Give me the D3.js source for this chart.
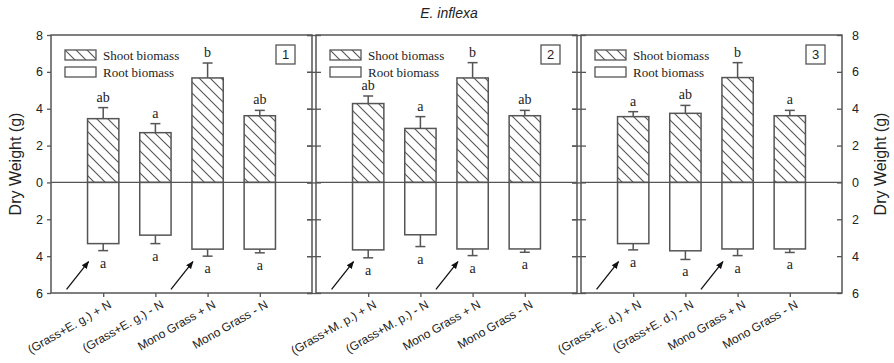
<!DOCTYPE html>
<html>
<head>
<meta charset="utf-8">
<script src="https://cdn.jsdelivr.net/npm/d3@7/dist/d3.min.js"></script>
<style>
  html, body { margin: 0; padding: 0; background: #fff; }
  svg { display: block; }
  .sans { font-family: "Liberation Sans", Arial, sans-serif; }
  .serif { font-family: "Liberation Serif", "Times New Roman", serif; }
</style>
</head>
<body>
<svg id="chart" width="894" height="363"></svg>
<script>
// Treatments shown in each panel (panel 1: E. g., panel 2: M. p., panel 3: E. d.)
const categories = [
  ["(Grass+E. g.) + N", "(Grass+E. g.) - N", "Mono Grass + N", "Mono Grass - N"],
  ["(Grass+M. p.) + N", "(Grass+M. p.) - N", "Mono Grass + N", "Mono Grass - N"],
  ["(Grass+E. d.) + N", "(Grass+E. d.) - N", "Mono Grass + N", "Mono Grass - N"]
];
const panelIds = ["1", "2", "3"];

// Shoot biomass (g), drawn upward
const shootMean = [
  [3.46, 2.70, 5.67, 3.62],
  [4.28, 2.93, 5.67, 3.62],
  [3.57, 3.75, 5.69, 3.62]
];
const shootErr = [
  [0.60, 0.49, 0.81, 0.29],
  [0.41, 0.64, 0.83, 0.29],
  [0.27, 0.43, 0.81, 0.29]
];
const shootLetters = [
  ["ab", "a", "b", "ab"],
  ["ab", "a", "b", "ab"],
  ["a", "ab", "b", "a"]
];

// Root biomass (g), drawn downward
const rootMean = [
  [3.32, 2.86, 3.62, 3.62],
  [3.66, 2.84, 3.61, 3.61],
  [3.32, 3.71, 3.61, 3.61]
];
const rootErr = [
  [0.38, 0.46, 0.38, 0.20],
  [0.43, 0.64, 0.36, 0.18],
  [0.34, 0.47, 0.36, 0.19]
];
const rootLetters = [
  ["a", "a", "a", "a"],
  ["a", "a", "a", "a"],
  ["a", "a", "a", "a"]
];

// Treatments marked with an arrow (the +N bars)
const arrowed = ["(Grass+E. g.) + N", "(Grass+M. p.) + N", "(Grass+E. d.) + N", "Mono Grass + N"];

const yTicks = [8, 6, 4, 2, 0, -2, -4, -6];
const legendLabels = ["Shoot biomass", "Root biomass"];
const title = "E. inflexa";
const yTitle = "Dry Weight (g)";

const svg = d3.select("#chart");
const plotTop = 35, plotBottom = 293;
const panelX = [[51, 312], [316, 577], [581, 842]];
const ink = "#555";
const textInk = "#222";

const y = d3.scaleLinear().domain([8, -6]).range([plotTop, plotBottom]);

// hatch pattern for shoot bars
const defs = svg.append("defs");
const pat = defs.append("pattern")
  .attr("id", "hatch").attr("patternUnits", "userSpaceOnUse")
  .attr("width", 11).attr("height", 11);
pat.append("rect").attr("width", 11).attr("height", 11).attr("fill", "#fff");
pat.append("path")
  .attr("d", "M0,0 L11,11 M-2,9 L2,13 M9,-2 L13,2")
  .attr("stroke", ink).attr("stroke-width", 1.1);

defs.append("marker")
  .attr("id", "arrowhead").attr("viewBox", "0 0 10 10")
  .attr("refX", 9).attr("refY", 5)
  .attr("markerWidth", 6).attr("markerHeight", 6)
  .attr("orient", "auto")
  .append("path").attr("d", "M0,1 L10,5 L0,9 Z").attr("fill", "#111");

// title
svg.append("text").attr("class", "sans")
  .attr("x", 449).attr("y", 18).attr("text-anchor", "middle")
  .attr("font-size", 14).attr("font-style", "italic").attr("fill", textInk)
  .text(title);

// y-axis titles
svg.append("text").attr("class", "sans")
  .attr("transform", `translate(21,${y(1)}) rotate(-90)`)
  .attr("text-anchor", "middle").attr("font-size", 16).attr("fill", textInk)
  .text(yTitle);
svg.append("text").attr("class", "sans")
  .attr("transform", `translate(886,${y(1)}) rotate(-90)`)
  .attr("text-anchor", "middle").attr("font-size", 16).attr("fill", textInk)
  .text(yTitle);

const tickFmt = d => Math.abs(d);

panelX.forEach((px, p) => {
  const [x0, x1] = px;
  const g = svg.append("g");
  const x = d3.scalePoint().domain(categories[p]).range([x0, x1]).padding(1);
  const bw = x.step() * 0.6;

  // zero line
  g.append("line")
    .attr("x1", x0).attr("x2", x1).attr("y1", y(0)).attr("y2", y(0))
    .attr("stroke", ink).attr("stroke-width", 1.2);

  categories[p].forEach((c, i) => {
    const cx = x(c);
    // shoot bars
    const m = shootMean[p][i], e = shootErr[p][i];
    g.append("line")
      .attr("x1", cx).attr("x2", cx).attr("y1", y(m)).attr("y2", y(m + e))
      .attr("stroke", ink).attr("stroke-width", 1.5);
    g.append("line")
      .attr("x1", cx - 5).attr("x2", cx + 5).attr("y1", y(m + e)).attr("y2", y(m + e))
      .attr("stroke", ink).attr("stroke-width", 1.5);
    g.append("rect")
      .attr("x", cx - bw / 2).attr("width", bw)
      .attr("y", y(m)).attr("height", y(0) - y(m))
      .attr("fill", "url(#hatch)").attr("stroke", ink).attr("stroke-width", 1.5);
    g.append("text").attr("class", "serif")
      .attr("x", cx).attr("y", y(m + e) - 6).attr("text-anchor", "middle")
      .attr("font-size", 14).attr("fill", textInk)
      .text(shootLetters[p][i]);

    // root bars
    const rm = rootMean[p][i], re = rootErr[p][i];
    g.append("line")
      .attr("x1", cx).attr("x2", cx).attr("y1", y(-rm)).attr("y2", y(-(rm + re)))
      .attr("stroke", ink).attr("stroke-width", 1.5);
    g.append("line")
      .attr("x1", cx - 5).attr("x2", cx + 5).attr("y1", y(-(rm + re))).attr("y2", y(-(rm + re)))
      .attr("stroke", ink).attr("stroke-width", 1.5);
    g.append("rect")
      .attr("x", cx - bw / 2).attr("width", bw)
      .attr("y", y(0)).attr("height", y(-rm) - y(0))
      .attr("fill", "#fff").attr("stroke", ink).attr("stroke-width", 1.5);
    g.append("text").attr("class", "serif")
      .attr("x", cx).attr("y", y(-(rm + re)) + 17).attr("text-anchor", "middle")
      .attr("font-size", 14).attr("fill", textInk)
      .text(rootLetters[p][i]);

    // arrows pointing at +N bars
    if (arrowed.includes(c)) {
      const bx = cx - bw / 2;
      g.append("line")
        .attr("x1", bx - 21).attr("y1", y(-5.8))
        .attr("x2", bx + 1).attr("y2", y(-4.3))
        .attr("stroke", "#111").attr("stroke-width", 1.3)
        .attr("marker-end", "url(#arrowhead)");
    }
  });

  // frame
  g.append("rect")
    .attr("x", x0).attr("y", plotTop).attr("width", x1 - x0).attr("height", plotBottom - plotTop)
    .attr("fill", "none").attr("stroke", ink).attr("stroke-width", 1.5);

  // x axis ticks and labels
  const xa = g.append("g").attr("transform", `translate(0,${plotBottom})`)
    .call(d3.axisBottom(x).tickSize(4).tickFormat(""));
  xa.select(".domain").remove();
  xa.selectAll(".tick line").attr("stroke", ink).attr("stroke-width", 1.3);
  categories[p].forEach(c => {
    g.append("text").attr("class", "sans")
      .attr("transform", `translate(${x(c) + 9},${plotBottom + 14}) rotate(-30)`)
      .attr("text-anchor", "end").attr("font-size", 12).attr("fill", textInk)
      .text(c);
  });

  // y axes
  if (p === 0) {
    const ya = g.append("g").attr("transform", `translate(${x0},0)`)
      .call(d3.axisLeft(y).tickValues(yTicks).tickSize(4).tickPadding(4).tickFormat(tickFmt));
    ya.select(".domain").remove();
    ya.selectAll(".tick line").attr("stroke", ink).attr("stroke-width", 1.3);
    ya.selectAll(".tick text").attr("font-size", 12.5)
      .attr("fill", textInk).attr("font-family", "Liberation Sans, Arial, sans-serif");
  } else {
    const ya = g.append("g").attr("transform", `translate(${x0},0)`)
      .call(d3.axisRight(y).tickValues(yTicks).tickSize(5).tickFormat(""));
    ya.select(".domain").remove();
    ya.selectAll(".tick line").attr("x1", -9).attr("stroke", ink).attr("stroke-width", 1.3);
  }
  const yr = g.append("g").attr("transform", `translate(${x1},0)`)
    .call(d3.axisLeft(y).tickValues(yTicks).tickSize(5).tickFormat(p === 2 ? tickFmt : ""));
  yr.select(".domain").remove();
  yr.selectAll(".tick line").attr("stroke", ink).attr("stroke-width", 1.3);
  if (p === 2) {
    yr.selectAll(".tick text")
      .attr("x", 10).attr("text-anchor", "start").attr("font-size", 12.5)
      .attr("fill", textInk).attr("font-family", "Liberation Sans, Arial, sans-serif");
  }

  // legend
  const lg = g.append("g").attr("transform", `translate(${x0 + 14},50)`);
  lg.append("rect").attr("x", 0).attr("y", 0).attr("width", 31).attr("height", 10)
    .attr("fill", "url(#hatch)").attr("stroke", ink).attr("stroke-width", 1.3);
  lg.append("rect").attr("x", 0).attr("y", 17).attr("width", 31).attr("height", 10)
    .attr("fill", "#fff").attr("stroke", ink).attr("stroke-width", 1.3);
  legendLabels.forEach((t, k) => {
    lg.append("text").attr("class", "serif")
      .attr("x", 38).attr("y", 10 + 17 * k).attr("font-size", 13).attr("fill", textInk)
      .text(t);
  });

  // panel number
  g.append("rect")
    .attr("x", x1 - 36).attr("y", 45).attr("width", 19).attr("height", 19)
    .attr("fill", "#fff").attr("stroke", ink).attr("stroke-width", 1.3);
  g.append("text").attr("class", "sans")
    .attr("x", x1 - 26.5).attr("y", 59).attr("text-anchor", "middle")
    .attr("font-size", 13).attr("fill", textInk)
    .text(panelIds[p]);
});
</script>
</body>
</html>
